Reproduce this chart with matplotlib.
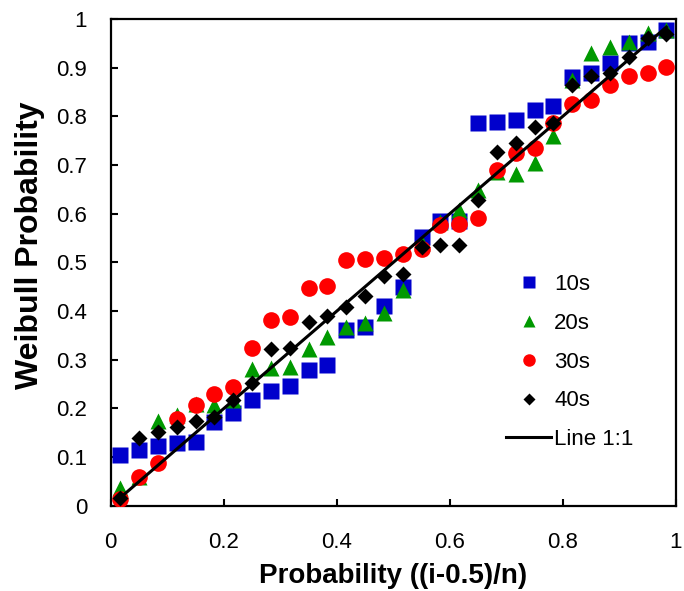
import matplotlib
matplotlib.use('Agg')
import matplotlib.pyplot as plt
import numpy as np

plt.rcParams['font.family'] = ['Liberation Sans', 'DejaVu Sans']

# rank i and sample size n -> plotting position (i-0.5)/n
n = 30
rank = np.arange(1, n + 1)
prob = (rank - 0.5) / n

weibull_10s = [0.105, 0.115, 0.123, 0.129, 0.131, 0.172, 0.191, 0.218, 0.236, 0.246,
               0.280, 0.290, 0.361, 0.368, 0.410, 0.450, 0.552, 0.585, 0.585, 0.786,
               0.789, 0.793, 0.813, 0.821, 0.881, 0.889, 0.910, 0.951, 0.952, 0.977]
weibull_20s = [0.037, 0.060, 0.175, 0.187, 0.210, 0.207, 0.218, 0.281, 0.283, 0.286,
               0.322, 0.347, 0.368, 0.376, 0.396, 0.443, 0.540, 0.582, 0.608, 0.649,
               0.686, 0.682, 0.704, 0.760, 0.875, 0.930, 0.943, 0.953, 0.971, 0.977]
weibull_30s = [0.014, 0.060, 0.088, 0.179, 0.207, 0.230, 0.245, 0.324, 0.382, 0.388,
               0.448, 0.452, 0.505, 0.507, 0.509, 0.517, 0.528, 0.577, 0.579, 0.591,
               0.690, 0.725, 0.735, 0.786, 0.825, 0.834, 0.864, 0.883, 0.889, 0.901]
weibull_40s = [0.016, 0.140, 0.151, 0.162, 0.175, 0.182, 0.218, 0.252, 0.322, 0.324,
               0.378, 0.390, 0.408, 0.430, 0.472, 0.476, 0.532, 0.536, 0.536, 0.628,
               0.727, 0.745, 0.778, 0.786, 0.864, 0.883, 0.889, 0.922, 0.961, 0.969]

x_ticks = [0, 0.2, 0.4, 0.6, 0.8, 1]
x_tick_labels = ['0', '0.2', '0.4', '0.6', '0.8', '1']
y_ticks = [0, 0.1, 0.2, 0.3, 0.4, 0.5, 0.6, 0.7, 0.8, 0.9, 1]
y_tick_labels = ['0', '0.1', '0.2', '0.3', '0.4', '0.5', '0.6', '0.7', '0.8', '0.9', '1']

fig = plt.figure(figsize=(6.84, 5.91), dpi=100)
ax = fig.add_axes([0.162, 0.144, 0.826, 0.824])

ax.plot(prob, weibull_10s, 's', color='#0000CC', ms=11.5, mec='none', label='10s', zorder=2)
ax.plot(prob, weibull_20s, '^', color='#009900', ms=12, mec='none', label='20s', zorder=3)
ax.plot(prob, weibull_30s, 'o', color='#FF0000', ms=12, mec='none', label='30s', zorder=4)
ax.plot(prob, weibull_40s, 'D', color='black', ms=8, mec='none', label='40s', zorder=5)
ax.plot(prob, prob, '-', color='black', lw=2.2, label='Line 1:1', zorder=6)

ax.set_xlim(0, 1)
ax.set_ylim(0, 1)
ax.set_xticks(x_ticks)
ax.set_xticklabels(x_tick_labels)
ax.set_yticks(y_ticks)
ax.set_yticklabels(y_tick_labels)
ax.tick_params(axis='both', direction='in', length=5, width=1.5, labelsize=16)
ax.tick_params(axis='x', pad=19)
ax.tick_params(axis='y', pad=17)
for s in ax.spines.values():
    s.set_linewidth(1.6)

ax.set_xlabel('Probability ((i-0.5)/n)', fontsize=20, fontweight='bold', labelpad=7)
ax.set_ylabel('Weibull Probability', fontsize=23, fontweight='bold', labelpad=8)
ax.yaxis.label.set_y(0.535)

ax.legend(loc='upper left', bbox_to_anchor=(0.7, 0.476), frameon=False, fontsize=16,
          markerscale=0.75, handlelength=2.0, handletextpad=0.15, labelspacing=0.8,
          borderaxespad=0, borderpad=0)

fig.savefig('out.png', dpi=100)
